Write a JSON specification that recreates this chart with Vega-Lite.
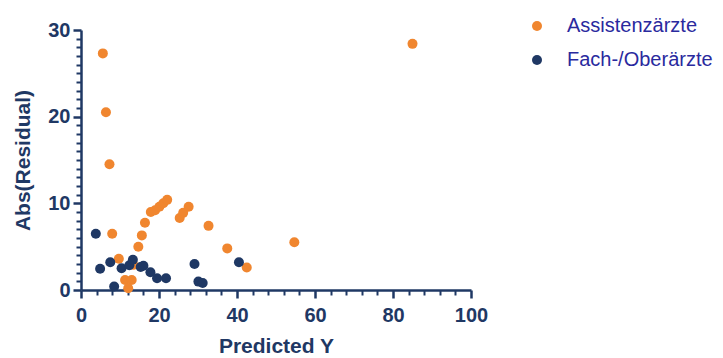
{
  "$schema": "https://vega.github.io/schema/vega-lite/v6.json",
  "width": 390,
  "height": 260,
  "autosize": {"type": "none"},
  "padding": {"left": 81, "top": 30, "right": 252, "bottom": 68},
  "background": "white",
  "data": {
    "values": [
      {"pred": 5.6, "absres": 27.3, "group": "Assistenzärzte"},
      {"pred": 6.4, "absres": 20.5, "group": "Assistenzärzte"},
      {"pred": 7.3, "absres": 14.5, "group": "Assistenzärzte"},
      {"pred": 85.0, "absres": 28.4, "group": "Assistenzärzte"},
      {"pred": 8.0, "absres": 6.5, "group": "Assistenzärzte"},
      {"pred": 9.7, "absres": 3.6, "group": "Assistenzärzte"},
      {"pred": 11.3, "absres": 1.16, "group": "Assistenzärzte"},
      {"pred": 13.0, "absres": 1.16, "group": "Assistenzärzte"},
      {"pred": 12.1, "absres": 0.2, "group": "Assistenzärzte"},
      {"pred": 13.4, "absres": 2.9, "group": "Assistenzärzte"},
      {"pred": 14.7, "absres": 5.0, "group": "Assistenzärzte"},
      {"pred": 15.6, "absres": 6.3, "group": "Assistenzärzte"},
      {"pred": 16.4, "absres": 7.75, "group": "Assistenzärzte"},
      {"pred": 17.9, "absres": 9.0, "group": "Assistenzärzte"},
      {"pred": 19.0, "absres": 9.2, "group": "Assistenzärzte"},
      {"pred": 20.1, "absres": 9.6, "group": "Assistenzärzte"},
      {"pred": 21.1, "absres": 10.0, "group": "Assistenzärzte"},
      {"pred": 22.1, "absres": 10.4, "group": "Assistenzärzte"},
      {"pred": 25.3, "absres": 8.3, "group": "Assistenzärzte"},
      {"pred": 26.2, "absres": 8.9, "group": "Assistenzärzte"},
      {"pred": 27.6, "absres": 9.6, "group": "Assistenzärzte"},
      {"pred": 32.7, "absres": 7.4, "group": "Assistenzärzte"},
      {"pred": 37.5, "absres": 4.8, "group": "Assistenzärzte"},
      {"pred": 42.5, "absres": 2.6, "group": "Assistenzärzte"},
      {"pred": 54.7, "absres": 5.5, "group": "Assistenzärzte"},
      {"pred": 3.8, "absres": 6.5, "group": "Fach-/Oberärzte"},
      {"pred": 4.9, "absres": 2.45, "group": "Fach-/Oberärzte"},
      {"pred": 7.5, "absres": 3.2, "group": "Fach-/Oberärzte"},
      {"pred": 8.5, "absres": 0.4, "group": "Fach-/Oberärzte"},
      {"pred": 10.4, "absres": 2.5, "group": "Fach-/Oberärzte"},
      {"pred": 12.4, "absres": 2.85, "group": "Fach-/Oberärzte"},
      {"pred": 13.3, "absres": 3.5, "group": "Fach-/Oberärzte"},
      {"pred": 15.3, "absres": 2.65, "group": "Fach-/Oberärzte"},
      {"pred": 16.0, "absres": 2.8, "group": "Fach-/Oberärzte"},
      {"pred": 17.8, "absres": 2.05, "group": "Fach-/Oberärzte"},
      {"pred": 19.5, "absres": 1.36, "group": "Fach-/Oberärzte"},
      {"pred": 21.8, "absres": 1.36, "group": "Fach-/Oberärzte"},
      {"pred": 29.1, "absres": 3.0, "group": "Fach-/Oberärzte"},
      {"pred": 30.1, "absres": 0.97, "group": "Fach-/Oberärzte"},
      {"pred": 31.2, "absres": 0.8, "group": "Fach-/Oberärzte"},
      {"pred": 40.5, "absres": 3.2, "group": "Fach-/Oberärzte"}
    ]
  },
  "config": {
    "view": {"stroke": null},
    "font": "Liberation Sans",
    "axis": {
      "grid": false,
      "domainColor": "#1f3864",
      "tickColor": "#1f3864",
      "labelColor": "#1f3864",
      "titleColor": "#1f3864",
      "labelFont": "Liberation Sans",
      "titleFont": "Liberation Sans",
      "labelFontWeight": "bold",
      "titleFontWeight": "bold",
      "labelFlush": false
    }
  },
  "layer": [
    {
      "mark": {"type": "point", "opacity": 0},
      "encoding": {
        "x": {
          "field": "pred", "type": "quantitative",
          "scale": {"domain": [0, 100], "nice": false, "zero": true},
          "axis": {
            "orient": "bottom", "values": [4, 8, 12, 16, 24, 28, 32, 36, 44, 48, 52, 56, 64, 68, 72, 76, 84, 88, 92, 96],
            "domain": false, "labels": false, "title": null,
            "tickSize": 5, "tickWidth": 2
          }
        },
        "y": {
          "field": "absres", "type": "quantitative",
          "scale": {"domain": [0, 30], "nice": false},
          "axis": {
            "orient": "left", "values": [1, 2, 3, 4, 5, 6, 7, 8, 9, 11, 12, 13, 14, 15, 16, 17, 18, 19, 21, 22, 23, 24, 25, 26, 27, 28, 29],
            "domain": false, "labels": false, "title": null,
            "tickSize": 5, "tickWidth": 2
          }
        }
      }
    },
    {
      "mark": {"type": "circle", "size": 100, "opacity": 1},
      "encoding": {
        "x": {
          "field": "pred", "type": "quantitative",
          "axis": {
            "orient": "bottom", "values": [0, 20, 40, 60, 80, 100],
            "title": "Predicted Y", "domainWidth": 2.5, "tickWidth": 2.5, "tickSize": 8,
            "labelFontSize": 20, "labelPadding": 7, "titleFontSize": 21, "titlePadding": 10
          }
        },
        "y": {
          "field": "absres", "type": "quantitative",
          "axis": {
            "orient": "left", "values": [0, 10, 20, 30],
            "title": "Abs(Residual)", "domainWidth": 2.5, "tickWidth": 2.5, "tickSize": 8,
            "labelFontSize": 20, "labelPadding": 3, "titleFontSize": 21, "titlePadding": 14
          }
        },
        "color": {
          "field": "group", "type": "nominal",
          "scale": {"domain": ["Assistenzärzte", "Fach-/Oberärzte"], "range": ["#f0862f", "#1f3864"]},
          "legend": {
            "title": null, "orient": "none", "legendX": 446, "legendY": -14,
            "symbolType": "circle", "symbolSize": 100, "symbolOpacity": 1,
            "labelFontSize": 20, "labelColor": "#2a2a9e", "labelFont": "Liberation Sans",
            "labelOffset": 20, "rowPadding": 14
          }
        }
      }
    }
  ],
  "resolve": {"axis": {"x": "independent", "y": "independent"}}
}
